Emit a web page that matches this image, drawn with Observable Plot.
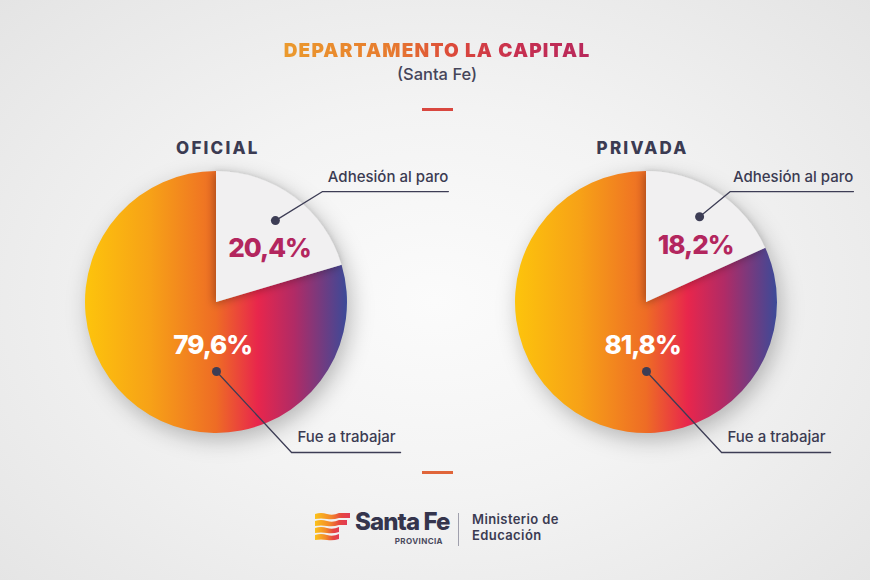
<!DOCTYPE html>
<html lang="es">
<head>
<meta charset="utf-8">
<script src="https://cdn.jsdelivr.net/npm/d3@7"></script>
<script src="https://cdn.jsdelivr.net/npm/@observablehq/plot@0.6"></script>
<style>
  html, body { margin: 0; padding: 0; }
  body {
    width: 870px; height: 580px; overflow: hidden; position: relative;
    font-family: Inter, "Noto Sans", sans-serif;
    background: radial-gradient(ellipse 70% 75% at 50% 52%, #fbfbfb 0%, #f3f3f3 45%, #e4e4e4 100%);
  }
  .abs { position: absolute; }
  #title { left: 0; width: 874px; top: 41px; text-align: center; font-size: 19px; line-height: 20px; font-weight: 900; letter-spacing: 1.2px; }
  #title span {
    background: linear-gradient(90deg, #eb9a2d 0%, #e77b2f 35%, #dc4a3a 55%, #c8304f 75%, #b8295c 100%);
    -webkit-background-clip: text; background-clip: text; color: transparent;
  }
  #subtitle { left: 0; width: 874px; top: 64px; text-align: center; font-size: 16.5px; line-height: 20px; font-weight: 500; color: #45455a; }
  .dash { width: 31px; height: 3px; left: 422px; }
  #chart { left: 0; top: 125px; width: 870px; height: 340px; }
  #chart svg { overflow: visible; }
  #logo-word { left: 355px; top: 511px; font-size: 24px; line-height: 22px; font-weight: 800; letter-spacing: -0.9px; color: #35354d; }
  #logo-prov { left: 380px; width: 63px; text-align: right; top: 537px; font-size: 8px; line-height: 8px; font-weight: 700; color: #4a4a5e; letter-spacing: 0.4px; }
  #logo-div { left: 458px; top: 513px; width: 1px; height: 33px; background: #a0a0ad; }
  .logo-min { left: 472px; font-size: 13px; line-height: 13px; font-weight: 600; color: #3b3b52; letter-spacing: 0.4px; }
</style>
</head>
<body>
<div id="title" class="abs"><span>DEPARTAMENTO LA CAPITAL</span></div>
<div id="subtitle" class="abs">(Santa Fe)</div>
<div class="abs dash" style="top:108px;background:#d9473f"></div>
<div id="chart" class="abs"></div>
<div class="abs dash" style="top:471px;background:#e0653a"></div>
<svg class="abs" style="left:313px;top:512px" width="40" height="32" viewBox="0 0 40 32">
  <defs>
    <linearGradient id="lg" x1="0" x2="1" y1="0" y2="0">
      <stop offset="0" stop-color="#fbc21a"/>
      <stop offset="0.45" stop-color="#f3892a"/>
      <stop offset="0.75" stop-color="#e6473f"/>
      <stop offset="1" stop-color="#e23a55"/>
    </linearGradient>
  </defs>
  <path d="M2 2 Q8 0 14 2 T26 1 L37 1 L37 6 L26 6 Q20 8 14 7 T2 7 Z" fill="url(#lg)"/>
  <path d="M2 9 Q8 7 14 9 T26 8 L34 8 L34 13 L26 13 Q20 15 14 14 T2 14 Z" fill="url(#lg)"/>
  <path d="M2 16 Q8 14 14 16 T26 15 L26 20 Q20 22 14 21 T2 21 Z" fill="url(#lg)"/>
  <path d="M2 23 Q8 21 14 23 T26 22 L26 27 Q20 29 14 28 T2 28 Z" fill="url(#lg)"/>
</svg>
<div id="logo-word" class="abs">Santa Fe</div>
<div id="logo-prov" class="abs">PROVINCIA</div>
<div id="logo-div" class="abs"></div>
<div class="abs logo-min" style="top:513px">Ministerio de</div>
<div class="abs logo-min" style="top:529px">Educación</div>

<script>
// ---------------- data ----------------
const sectors = ["OFICIAL", "PRIVADA"];
const categories = ["Adhesión al paro", "Fue a trabajar"];
const adhesionValues = [20.4, 18.2];
const trabajoValues = [79.6, 81.8];

// ---------------- layout (radius units) ----------------
const SPACING = 430 / 131;                 // distance between pie centres
const pieX = sectors.map((s, i) => i * SPACING);
const headerDx = [0.01, -0.03];
const adhElbowX = [0.81, 0.64];
const adhEndX = [1.77, 1.58];
const adhTextX = [0.85, 0.66];
const deg = Math.PI / 180;
const fmt = v => v.toFixed(1).replace(".", ",") + "%";

const pie = d3.pie().sort(null).value(d => d.value);
const slices = sectors.flatMap((sector, i) =>
  pie([
    {category: categories[0], value: adhesionValues[i]},
    {category: categories[1], value: trabajoValues[i]}
  ]).map(a => ({sector, i, category: a.data.category, value: a.data.value,
                startAngle: a.startAngle, endAngle: a.endAngle}))
);
const polar = (i, angle, r) => ({x: pieX[i] + r * Math.sin(angle), y: r * Math.cos(angle)});

const pctLabels = slices.map(s => {
  const mid = (s.startAngle + s.endAngle) / 2;
  const adh = s.category === categories[0];
  const p = adh ? polar(s.i, mid + 8 * deg, 0.575) : {x: pieX[s.i] - 0.03, y: 0.33 * Math.cos(Math.PI)};
  return {...p, text: fmt(s.value), adh};
});

const dots = slices.map(s => {
  const mid = (s.startAngle + s.endAngle) / 2;
  const adh = s.category === categories[0];
  return {...(adh ? polar(s.i, mid - 1 * deg, 0.77) : polar(s.i, Math.PI, 0.527)), adh, i: s.i};
});

const leaders = dots.flatMap((d, k) => {
  const id = "l" + k;
  if (d.adh) return [
    {id, x: d.x, y: d.y},
    {id, x: pieX[d.i] + adhElbowX[d.i], y: 0.847},
    {id, x: pieX[d.i] + adhEndX[d.i], y: 0.847}
  ];
  return [
    {id, x: d.x, y: d.y},
    {id, x: pieX[d.i] + 0.573, y: -1.145},
    {id, x: pieX[d.i] + 1.405, y: -1.145}
  ];
});

const catLabels = sectors.flatMap((s, i) => [
  {x: pieX[i] + adhTextX[i], y: 0.955, text: categories[0]},
  {x: pieX[i] + 0.618, y: -1.03, text: categories[1]}
]);

const gradStops = [
  [0, "#fdc40c"], [0.25, "#f7a117"], [0.5, "#ee6c25"],
  [0.66, "#e8264c"], [0.8, "#b02b66"], [1, "#3b4a98"]
];

function pieMark(data) {
  return function (index, scales) {
    const {x, y} = scales;
    const r = Math.abs(y(1) - y(0));
    const g = d3.create("svg:g");
    const defs = g.append("defs");
    const blur = defs.append("filter").attr("id", "pie-halo")
      .attr("x", "-40%").attr("y", "-40%").attr("width", "180%").attr("height", "180%");
    blur.append("feGaussianBlur").attr("stdDeviation", 11);
    const inner = defs.append("filter").attr("id", "slice-shadow")
      .attr("x", "-40%").attr("y", "-40%").attr("width", "180%").attr("height", "180%");
    inner.append("feDropShadow").attr("dx", -2).attr("dy", 2).attr("stdDeviation", 4)
      .attr("flood-color", "#000").attr("flood-opacity", 0.3);
    const arc = d3.arc().innerRadius(0).outerRadius(r);
    sectors.forEach((sector, i) => {
      const cx = x(pieX[i]), cy = y(0);
      const lg = defs.append("linearGradient").attr("id", "pie-grad-" + i)
        .attr("gradientUnits", "userSpaceOnUse")
        .attr("x1", -r).attr("x2", r).attr("y1", 0).attr("y2", 0);
      gradStops.forEach(([o, c]) => lg.append("stop").attr("offset", o).attr("stop-color", c));
      g.append("circle").attr("cx", cx + 4).attr("cy", cy + 7).attr("r", r)
        .attr("fill", "#000").attr("fill-opacity", 0.26).attr("filter", "url(#pie-halo)");
      const gi = g.append("g").attr("transform", `translate(${cx},${cy})`);
      data.filter(d => d.i === i && d.category !== categories[0]).forEach(d =>
        gi.append("path").attr("d", arc(d)).attr("fill", `url(#pie-grad-${i})`));
      data.filter(d => d.i === i && d.category === categories[0]).forEach(d =>
        gi.append("path").attr("d", arc(d)).attr("fill", "#f1f0f1").attr("filter", "url(#slice-shadow)"));
    });
    return g.node();
  };
}

const ink = "#3b3b52";
const plot = Plot.plot({
  width: 870, height: 340,
  marginLeft: 85, marginRight: 93, marginTop: 46, marginBottom: 32,
  x: {domain: [-1, 1 + SPACING], axis: null},
  y: {domain: [-1, 1], axis: null},
  style: {background: "transparent", fontFamily: "Inter, 'Noto Sans', sans-serif", overflow: "visible"},
  marks: [
    pieMark(slices),
    Plot.line(leaders, {x: "x", y: "y", z: "id", stroke: "#3d3d55", strokeWidth: 1.3}),
    Plot.dot(dots, {x: "x", y: "y", r: 4.5, fill: "#3d3d55", stroke: "none"}),
    Plot.text(sectors, {x: (d, i) => pieX[i] + headerDx[i], y: () => 1.176, text: d => d,
      fontSize: 17, fontWeight: 800, fill: ink}),
    Plot.text(pctLabels.filter(d => d.adh), {x: "x", y: "y", text: "text",
      fontSize: 26, fontWeight: 800, fill: "#b3265e"}),
    Plot.text(pctLabels.filter(d => !d.adh), {x: "x", y: "y", text: "text",
      fontSize: 26, fontWeight: 800, fill: "#ffffff"}),
    Plot.text(catLabels, {x: "x", y: "y", text: "text", textAnchor: "start",
      fontSize: 15, fontWeight: 500, fill: ink})
  ]
});
const pctTexts = pctLabels.map(d => d.text);
d3.select(plot).selectAll("text").each(function () {
  const t = this.textContent;
  if (sectors.includes(t)) this.style.letterSpacing = "2.2px";
  else if (pctTexts.includes(t)) this.style.letterSpacing = "-1px";
});
document.getElementById("chart").appendChild(plot);
</script>
</body>
</html>
